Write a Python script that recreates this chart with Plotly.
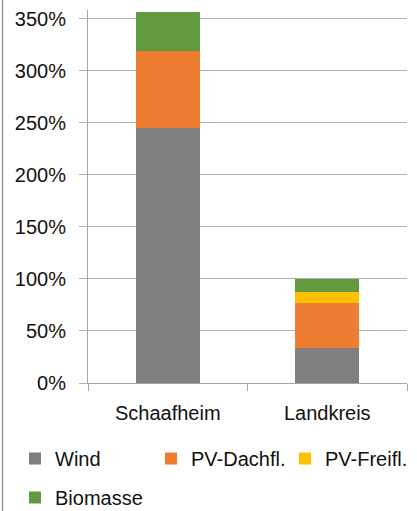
import plotly.graph_objects as go

# Share of local electricity demand covered by renewable sources (percent)
regions = ["Schaafheim", "Landkreis"]
wind = [245, 34]
pv_dach = [74, 43]
pv_frei = [0, 10.5]
biomasse = [38, 12.5]

series_names = ["Wind", "PV-Dachfl.", "PV-Freifl.", "Biomasse"]
series_colors = ["#7f7f7f", "#ed7d31", "#ffc000", "#629b3e"]
series_values = [wind, pv_dach, pv_frei, biomasse]

y_ticks = [0, 50, 100, 150, 200, 250, 300, 350]
y_tick_labels = [f"{v}%" for v in y_ticks]

FONT = "Liberation Sans, Arial, sans-serif"
TEXT = "#111111"
FS = 20
W, H = 417, 511

# Legend grid: three columns on the first row, Biomasse alone on the second
legend_ids = ["legend", "legend2", "legend3", "legend4"]
legend_pos_px = [(15, 439), (151, 439), (285, 439), (15, 478)]

fig = go.Figure()
for name, color, vals, lid in zip(series_names, series_colors, series_values, legend_ids):
    fig.add_trace(go.Bar(
        x=regions,
        y=vals,
        name=name,
        marker=dict(color=color, line=dict(width=0)),
        legend=lid,
    ))

legend_layouts = {}
for lid, (px, py) in zip(legend_ids, legend_pos_px):
    legend_layouts[lid] = dict(
        orientation="h",
        xref="container", yref="container",
        x=px / W, y=1 - py / H,
        xanchor="left", yanchor="top",
        itemwidth=30,
        font=dict(family=FONT, size=FS, color=TEXT),
        bgcolor="rgba(0,0,0,0)",
    )

fig.update_layout(
    width=W,
    height=H,
    barmode="stack",
    bargap=0.6,
    plot_bgcolor="white",
    paper_bgcolor="white",
    margin=dict(l=88, r=10, t=10, b=128, autoexpand=False),
    font=dict(family=FONT, size=FS, color=TEXT),
    showlegend=True,
    **legend_layouts,
    xaxis=dict(
        showline=True, linecolor="#a6a6a6", linewidth=1,
        ticks="outside", tickson="boundaries", ticklen=7, tickcolor="#a6a6a6",
        showgrid=False,
        ticklabelstandoff=12,
        tickfont=dict(family=FONT, size=FS, color=TEXT),
    ),
    yaxis=dict(
        range=[0, 358.5],
        tickmode="array",
        tickvals=y_ticks,
        ticktext=y_tick_labels,
        showline=True, linecolor="#a6a6a6", linewidth=1,
        ticks="outside", ticklen=8, tickcolor="#b3b3b3",
        showgrid=True, gridcolor="#b3b3b3", gridwidth=1,
        zeroline=False,
        ticklabelstandoff=9,
        tickfont=dict(family=FONT, size=FS, color=TEXT),
    ),
    shapes=[
        dict(type="line", xref="paper", yref="paper",
             x0=-0.268, x1=-0.268, y0=-0.35, y1=1.03,
             line=dict(color="#9a9a9a", width=1.5)),
    ],
)

fig.write_html("out.html")
